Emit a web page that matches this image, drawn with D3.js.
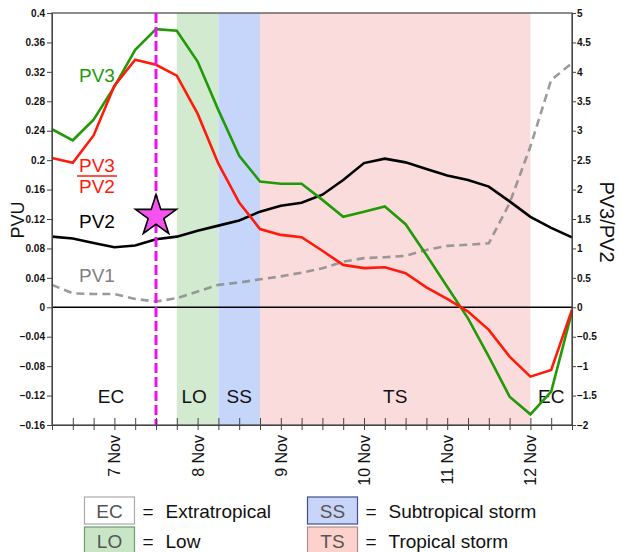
<!DOCTYPE html>
<html><head><meta charset="utf-8">
<script src="https://cdn.jsdelivr.net/npm/d3@7"></script>
<style>body{margin:0;background:#fff}svg{display:block;font-family:"Liberation Sans",Arial,sans-serif}</style>
</head><body><svg id="c" width="623" height="552"></svg>
<script>
const times = ["2012-11-06T06","2012-11-06T12","2012-11-06T18","2012-11-07T00","2012-11-07T06","2012-11-07T12","2012-11-07T18","2012-11-08T00","2012-11-08T06","2012-11-08T12","2012-11-08T18","2012-11-09T00","2012-11-09T06","2012-11-09T12","2012-11-09T18","2012-11-10T00","2012-11-10T06","2012-11-10T12","2012-11-10T18","2012-11-11T00","2012-11-11T06","2012-11-11T12","2012-11-11T18","2012-11-12T00","2012-11-12T06","2012-11-12T12"];
const pv3 = [0.242,0.227,0.255,0.300,0.350,0.378,0.376,0.334,0.268,0.206,0.171,0.168,0.168,0.146,0.123,0.130,0.137,0.113,0.071,0.028,-0.015,-0.067,-0.1215,-0.1455,-0.1147,-0.006];
const ratio = [2.535,2.456,2.92,3.765,4.207,4.12,3.935,3.29,2.44,1.78,1.33,1.23,1.19,0.96,0.72,0.665,0.68,0.58,0.34,0.143,-0.073,-0.384,-0.838,-1.178,-1.065,-0.04];
const pv2 = [0.096,0.0935,0.0875,0.0817,0.084,0.0926,0.096,0.104,0.111,0.118,0.130,0.138,0.142,0.153,0.173,0.196,0.202,0.197,0.188,0.179,0.173,0.164,0.144,0.123,0.108,0.095];
const pv1 = [0.0305,0.019,0.018,0.018,0.0114,0.0078,0.0124,0.0214,0.0305,0.0336,0.038,0.042,0.047,0.053,0.062,0.0668,0.068,0.070,0.078,0.0835,0.085,0.087,0.1416,0.2186,0.309,0.332];
const regimeLabels = ["EC","LO","SS","TS","EC"];
const regimeStarts = ["2012-11-06T06","2012-11-07T18","2012-11-08T06","2012-11-08T18","2012-11-12T00"];
const regimeEnds   = ["2012-11-07T18","2012-11-08T06","2012-11-08T18","2012-11-12T00","2012-11-12T12"];
const regimeColors = {EC:"none",LO:"#d1ead0",SS:"#c6d6fa",TS:"#fadcdc"};
const regimeLabelX = ["2012-11-06T23","2012-11-07T23","2012-11-08T12","2012-11-10T09","2012-11-12T06"];
const eventTime = "2012-11-07T12";
const eventPVU = 0.124;
const leftTicks = [0.4,0.36,0.32,0.28,0.24,0.2,0.16,0.12,0.08,0.04,0,-0.04,-0.08,-0.12,-0.16];
const rightTicks = [5,4.5,4,3.5,3,2.5,2,1.5,1,0.5,0,-0.5,-1,-1.5,-2];
const legendCodes = ["EC","LO","SS","TS"];
const legendNames = ["Extratropical","Low","Subtropical storm","Tropical storm"];

const t = s => new Date(s + ":00:00Z");
const svg = d3.select("#c");
const L=52,R=572,T=13,B=425;
const x = d3.scaleUtc().domain([t(times[0]), t(times[times.length-1])]).range([L,R]);
const y = d3.scaleLinear().domain([-0.16,0.4]).range([B,T]);
const y2 = d3.scaleLinear().domain([-2,5]).range([B,T]);

// regime bands
regimeLabels.forEach((r,i)=>{
  if(regimeColors[r]!=="none")
    svg.append("rect").attr("x",x(t(regimeStarts[i]))).attr("y",T)
      .attr("width",x(t(regimeEnds[i]))-x(t(regimeStarts[i]))).attr("height",B-T)
      .attr("fill",regimeColors[r]);
});
// regime labels
regimeLabels.forEach((r,i)=>{
  svg.append("text").attr("x",x(t(regimeLabelX[i]))).attr("y",403)
    .attr("text-anchor","middle").attr("font-size",19).attr("fill","#111").text(r);
});
// zero line
svg.append("line").attr("x1",L).attr("x2",R).attr("y1",y(0)).attr("y2",y(0)).attr("stroke","#000").attr("stroke-width",1.6);

const lineL = d3.line().x((d,i)=>x(t(times[i]))).y(d=>y(d));
const lineR = d3.line().x((d,i)=>x(t(times[i]))).y(d=>y2(d));
svg.append("path").attr("d",lineL(pv1)).attr("fill","none").attr("stroke","#8a8a8a").attr("stroke-opacity",0.85).attr("stroke-width",2.6).attr("stroke-dasharray","8,5");
svg.append("path").attr("d",lineL(pv2)).attr("fill","none").attr("stroke","#000").attr("stroke-width",2.6);
svg.append("path").attr("d",lineL(pv3)).attr("fill","none").attr("stroke","#229a08").attr("stroke-width",2.6);
svg.append("path").attr("d",lineR(ratio)).attr("fill","none").attr("stroke","#ff1a0a").attr("stroke-width",2.6);

// frame
svg.append("rect").attr("x",L).attr("y",T).attr("width",R-L).attr("height",B-T).attr("fill","none").attr("stroke","#444").attr("stroke-width",1.2);

// event line + star
const ex = x(t(eventTime));
svg.append("line").attr("x1",ex).attr("x2",ex).attr("y1",T).attr("y2",B).attr("stroke","#ee10ee").attr("stroke-width",3).attr("stroke-dasharray","10,4");
const star = d3.symbol().type(d3.symbolStar).size(520);
svg.append("path").attr("d",star()).attr("transform",`translate(${ex},${y(eventPVU)})`)
  .attr("fill","#f552f0").attr("stroke","#000").attr("stroke-width",1.6).attr("stroke-linejoin","miter");

// axes
const fmt = v => (v<0?"\u2212":"")+String(Math.abs(v));
const ax = svg.append("g").attr("transform",`translate(${L},0)`)
  .call(d3.axisLeft(y).tickValues(leftTicks).tickSize(5).tickPadding(2).tickFormat(fmt));
const ax2 = svg.append("g").attr("transform",`translate(${R},0)`)
  .call(d3.axisRight(y2).tickValues(rightTicks).tickSize(4).tickPadding(1).tickFormat(fmt));
[ax,ax2].forEach(a=>{a.select(".domain").attr("stroke","#444");a.selectAll("line").attr("stroke","#444");
  a.selectAll("text").attr("font-size",10).attr("font-weight","bold").attr("fill","#111").attr("font-family","Liberation Sans, Arial, sans-serif");});

const xa = svg.append("g").attr("transform",`translate(0,${B})`)
  .call(d3.axisBottom(x).ticks(d3.utcHour.every(6)).tickSize(5).tickFormat(""));
xa.select(".domain").attr("stroke","#444");
xa.selectAll(".tick line").attr("y1",-7).attr("y2",5).attr("stroke","#444");
const dayTicks = times.filter(s=>s.endsWith("T00"));
dayTicks.forEach(s=>{
  const d=t(s);
  svg.append("text").attr("transform",`translate(${x(d)+6},435) rotate(-90)`)
    .attr("text-anchor","end").attr("font-size",16).attr("fill","#111")
    .text(d.getUTCDate()+" Nov");
});

// axis titles
svg.append("text").attr("transform","translate(24,220) rotate(-90)").attr("text-anchor","middle").attr("font-size",18).attr("fill","#111").text("PVU");
svg.append("text").attr("transform","translate(600,222) rotate(90)").attr("text-anchor","middle").attr("font-size",20).attr("fill","#111").text("PV3/PV2");

// series labels
svg.append("text").attr("x",79).attr("y",82).attr("font-size",19).attr("fill","#229a08").text("PV3");
svg.append("text").attr("x",79).attr("y",172).attr("font-size",19).attr("fill","#ff1a0a").text("PV3");
svg.append("line").attr("x1",77).attr("x2",117).attr("y1",176).attr("y2",176).attr("stroke","#ff1a0a").attr("stroke-width",1.5);
svg.append("text").attr("x",79).attr("y",193).attr("font-size",19).attr("fill","#ff1a0a").text("PV2");
svg.append("text").attr("x",79).attr("y",228).attr("font-size",19).attr("fill","#000").text("PV2");
svg.append("text").attr("x",79).attr("y",282).attr("font-size",19).attr("fill","#808080").text("PV1");

// legend
const legFill = {EC:"#ffffff",LO:"#c8e6c6",SS:"#c9d4f9",TS:"#fdd2cd"};
const legStroke = {EC:"#aaaaaa",LO:"#6f9a6f",SS:"#3e4f8a",TS:"#b08a88"};
legendCodes.forEach((c,i)=>{
  const col=Math.floor(i/2), row=i%2;
  const bx = col===0?84.5:307.5, by = row===0?497:527;
  svg.append("rect").attr("x",bx).attr("y",by).attr("width",50).attr("height",27)
    .attr("fill",legFill[c]).attr("stroke",legStroke[c]).attr("stroke-width",1.2);
  svg.append("text").attr("x",bx+25).attr("y",by+20.5).attr("text-anchor","middle").attr("font-size",19).attr("fill","#555").text(c);
  svg.append("text").attr("x",bx+58).attr("y",by+20.5).attr("font-size",19).attr("fill","#111").text("=");
  svg.append("text").attr("x",bx+81).attr("y",by+20.5).attr("font-size",19).attr("fill","#111").text(legendNames[i]);
});
</script></body></html>
